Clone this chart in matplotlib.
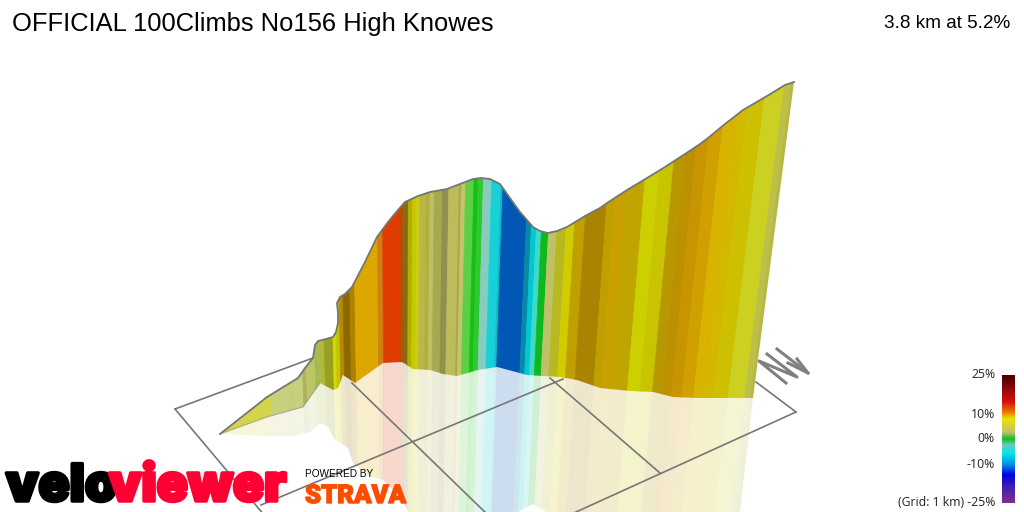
import numpy as np
import matplotlib
matplotlib.use('Agg')
import matplotlib.pyplot as plt
import matplotlib.patheffects as pe
from matplotlib.patches import Polygon
from matplotlib.colors import LinearSegmentedColormap

# profile, in picture pixels
top_x = [220, 267, 298, 305, 313, 315, 318, 326, 333, 336, 338, 338, 337, 340, 345, 352, 365, 377, 388, 398, 405, 418, 430,
         447, 460, 473, 481, 490, 500, 510, 520, 527, 533, 540, 548, 557, 567, 585, 600, 607, 627, 647, 665, 685, 700, 708,
         725, 743, 767, 785, 794]
top_y = [434, 397, 378, 368, 358, 345, 341, 339, 337, 332, 323, 313, 303, 297, 294, 287, 262, 237, 222, 210, 202, 196, 192,
         189, 184, 179, 178, 179, 184, 198, 212, 220, 227, 231, 233, 231, 227, 216, 208, 203, 190, 178, 167, 154, 144, 138,
         124, 110, 96, 85, 82]
base_x = [220, 267, 303, 320, 333, 338, 343, 355, 383, 402, 413, 430, 443, 457, 478, 497, 527, 542, 560, 577, 600, 630, 653,
          673, 697, 753]
base_y = [434, 417, 407, 383, 390, 388, 375, 383, 363, 362, 369, 370, 374, 376, 370, 367, 375, 376, 377, 380, 388, 391, 392,
          397, 398, 398]
shadow_x = [220, 267, 293, 310, 320, 328, 335, 348, 353, 368, 383, 400, 410, 440, 515, 532, 550, 600, 738, 753]
shadow_y = [434, 436, 436, 432, 423, 427, 440, 448, 463, 476, 480, 497, 514, 530, 514, 504, 514, 530, 530, 398]

# stripe edges (x where each edge crosses y=300) and colour of each stripe
edges = [200, 267, 285, 292, 300, 304, 313, 317, 323, 332, 335, 339, 343, 350, 355, 378, 383, 400, 403, 408, 412, 416, 419,
         425, 429, 433, 441, 443, 447, 457, 459, 463, 471, 475, 480, 488, 497, 499, 523, 528, 533, 538, 545, 553, 562, 570,
         580, 600, 608, 618, 635, 648, 661, 671, 681, 692, 704, 716, 725, 740, 757, 763, 775]
colours = ['#d4d44a', '#c8d080', '#c4d078', '#c8d080', '#b0b060', '#b8c868', '#a8b850', '#b0b840', '#98a020', '#d8d800',
           '#c0c800', '#b88800', '#8a6a00', '#b08000', '#dca800', '#d08010', '#e03c00', '#c04800', '#8a6a10', '#b0b000',
           '#c8c800', '#d0cc10', '#b8b848', '#b0b040', '#c0c060', '#a8a850', '#909040', '#909050', '#bcbc5c', '#a8a848',
           '#c4c46c', '#5cd044', '#14c014', '#30c830', '#88ccc0', '#18d0d8', '#10b8c8', '#0058b4', '#0888a8', '#00c8d0',
           '#40d8c8', '#10b820', '#c0c068', '#b8b820', '#d0cc00', '#c0a000', '#a88400', '#c0a000', '#c8a000', '#c0a400',
           '#ccd000', '#c8c400', '#b89800', '#bc9000', '#c89400', '#d0a000', '#d8b400', '#d4b800', '#ccc000', '#ccd020',
           '#bcc048', '#b8b840']

grid_lines = [[(175, 409), (313, 358)], [(175, 409), (270, 522)], [(352, 383), (490, 517)], [(550, 378), (660, 473)],
              [(756, 382), (796, 412)], [(796, 412), (565, 517)], [(563, 379), (261, 505)]]
north_lines = [[(786, 383), (759, 361), (797, 377), (767, 354)], [(777, 349), (808, 373)], [(788, 363), (808, 373), (797, 359)]]

bar_stops = [0, 0.21, 0.29, 0.34, 0.445, 0.50, 0.545, 0.61, 0.70, 0.78, 0.875, 1]
bar_colours = ['#480000', '#d81010', '#ee7a00', '#e6e600', '#c8c070', '#10c020', '#70c8c0', '#00e8e8', '#0090e8', '#0000e0',
               '#4020b0', '#803090']
bar_labels = ['25%', '10%', '0%', '-10%', '(Grid: 1 km) -25%']
bar_label_y = [375, 414, 439, 465, 503]

VP_X, VP_Y = 400, 3100


def edge_x(x300, y):
    return VP_X + (x300 - VP_X) * (VP_Y - y) / (VP_Y - 300)


def draw_stripes(clip, alpha, zorder, seam):
    for i, c in enumerate(colours):
        y0, y1 = 50, 530
        quad = [(edge_x(edges[i], y0), y0), (edge_x(edges[i + 1], y0), y0),
                (edge_x(edges[i + 1], y1), y1), (edge_x(edges[i], y1), y1)]
        p = ax.add_patch(Polygon(quad, facecolor=c, edgecolor=c if seam else 'none', lw=seam, alpha=alpha, zorder=zorder))
        p.set_clip_path(clip)


fig = plt.figure(figsize=(10.24, 5.12), dpi=100)
ax = fig.add_axes([0, 0, 1, 1])
ax.set_xlim(0, 1024)
ax.set_ylim(512, 0)
ax.axis('off')

shadow = Polygon(list(zip(base_x, base_y)) + list(zip(shadow_x, shadow_y))[::-1], facecolor='none', edgecolor='none')
ax.add_patch(shadow)
draw_stripes(shadow, 0.2, 1, 0)

for line in grid_lines:
    ax.plot(*zip(*line), color='#777777', lw=1.2, zorder=2)

ribbon = Polygon(list(zip(top_x, top_y)) + list(zip(base_x, base_y))[::-1], facecolor='none', edgecolor='none')
ax.add_patch(ribbon)
draw_stripes(ribbon, 1, 3, 0.5)
ax.plot(top_x, top_y, color='#757575', lw=1.3, zorder=4)
ax.plot(base_x[:4], base_y[:4], color='#757575', lw=0.8, alpha=0.5, zorder=4)

for line in north_lines:
    ax.plot(*zip(*line), color='#808080', lw=2.2, zorder=2)

ax.text(12, 24, 'OFFICIAL 100Climbs No156 High Knowes', family='Liberation Sans', fontsize=18.4, va='center', ha='left', color='black')
ax.text(1010, 23, '3.8 km at 5.2%', family='Liberation Sans', fontsize=13.7, va='center', ha='right', color='black')

# colour bar
cmap = LinearSegmentedColormap.from_list('grade', list(zip(bar_stops, bar_colours)))
ax.imshow(np.linspace(0, 1, 256).reshape(-1, 1), cmap=cmap, extent=(1002, 1015, 503, 375), aspect='auto', zorder=5)
ax.set_xlim(0, 1024)
ax.set_ylim(512, 0)
for lab, y in zip(bar_labels, bar_label_y):
    ax.text(995, y, lab, family='Open Sans', fontsize=8.8, va='center', ha='right', color='#222222', zorder=6)

# logos
ax.text(6, 501, 'velo', family='Inter', weight='black', fontsize=37, color='black', va='baseline', ha='left', zorder=6,
        path_effects=[pe.withStroke(linewidth=2.5, foreground='black')])
ax.text(109, 501, 'viewer', family='Inter', weight='black', fontsize=37, color='#ff0033', va='baseline', ha='left', zorder=6,
        path_effects=[pe.withStroke(linewidth=2.5, foreground='#ff0033')])
ax.text(305, 477, 'POWERED BY', family='Liberation Sans', fontsize=7.2, color='black', va='baseline', ha='left', zorder=6)
ax.text(305, 503, 'STRAVA', family='Roboto', weight='black', fontsize=18.5, color='#fc4c02', va='baseline', ha='left', zorder=6,
        path_effects=[pe.withStroke(linewidth=1, foreground='#fc4c02')])

fig.savefig('out.png', dpi=100)
